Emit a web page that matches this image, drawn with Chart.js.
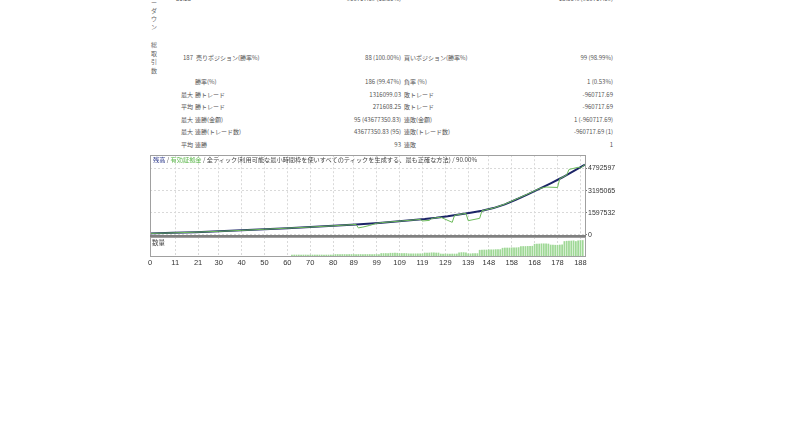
<!DOCTYPE html>
<html>
<head>
<meta charset="utf-8">
<script src="https://cdn.jsdelivr.net/npm/chart.js@4.4.0/dist/chart.umd.min.js"></script>
<style>
  body { margin: 0; background: #fff; width: 800px; height: 423px; overflow: hidden; position: relative; font-family: "Noto Sans CJK JP", sans-serif; }
  .t { position: absolute; font-size: 6px; color: #555; white-space: nowrap; line-height: 1; }
  .r { transform: translateX(-100%); }
  .v { position: absolute; font-size: 6px; color: #666; line-height: 1; }
  #title { position: absolute; left: 153px; top: 157px; font-size: 6.2px; color: #444; white-space: nowrap; line-height: 1; z-index: 2; }
  #volLabel { position: absolute; left: 152px; top: 239px; font-size: 6.5px; color: #444; line-height: 1; z-index: 2; }
  canvas { position: absolute; }
</style>
</head>
<body>
<div id="stats"></div>
<div id="title"><span style="color:#2e3a8c">残高</span> / <span style="color:#5fb84f">有効証拠金</span> / 全ティック(利用可能な最小時間枠を使いすべてのティックを生成する、最も正確な方法) / 90.00%</div>
<div id="volLabel">数量</div>
<canvas id="balance" width="490" height="90" style="left:140px;top:150px"></canvas>
<canvas id="volume" width="490" height="34" style="left:140px;top:236px"></canvas>
<script>
// 残高 / 有効証拠金 グラフ
const xTicks = [0, 11, 21, 30, 40, 50, 60, 70, 80, 89, 99, 109, 119, 129, 139, 148, 158, 168, 178, 188];
const yTicks = [0, 1597532, 3195065, 4792597];

const balTrade = [0, 10, 20, 30, 40, 50, 60, 70, 80, 90, 100, 110, 120, 125, 130, 135, 140, 145, 150, 155, 160, 165, 170, 175, 180, 185, 190];
const balValue = [100000, 140000, 190000, 250000, 320000, 400000, 480000, 560000, 650000, 750000, 860000, 1000000, 1140000, 1230000, 1340000, 1470000, 1600000, 1740000, 1930000, 2200000, 2550000, 2920000, 3320000, 3720000, 4140000, 4600000, 5070000];

const eqTrade = [0, 10, 20, 30, 40, 50, 60, 70, 80, 90, 91, 93, 96, 99, 101, 110, 118, 119, 122, 123, 125, 127, 132, 133, 135, 138, 139, 144, 145, 150, 155, 160, 165, 170, 173, 178, 179, 180, 182, 183, 187, 188, 190];
const eqValue = [100000, 140000, 190000, 250000, 320000, 400000, 480000, 560000, 650000, 750000, 500000, 560000, 680000, 830000, 880000, 1000000, 1110000, 1000000, 1040000, 1180000, 1230000, 1270000, 900000, 1400000, 1470000, 1550000, 1020000, 1190000, 1740000, 1930000, 2220000, 2580000, 2950000, 3340000, 3450000, 3420000, 4060000, 4140000, 4320000, 4720000, 4880000, 4820000, 5070000];

// 数量 (ロット) - トレード62から
const volStart = 62;
const volume = [
  0.1, 0.1, 0.1, 0.1, 0.1, 0.1, 0.1, 0.1, 0.1, 0.1, 0.1, 0.1, 0.1, 0.1, 0.1, 0.1, 0.1, 0.1, 0.1,
  0.15, 0.15, 0.15, 0.15, 0.15, 0.15, 0.15, 0.15, 0.15, 0.15, 0.15, 0.15, 0.15, 0.15, 0.15, 0.15, 0.15, 0.15, 0.15, 0.15,
  0.25, 0.25, 0.25, 0.25, 0.28, 0.28, 0.28, 0.28, 0.25, 0.25, 0.25, 0.25,
  0.22, 0.22, 0.22, 0.22, 0.22, 0.22, 0.22,
  0.3, 0.3, 0.3, 0.32, 0.32, 0.3, 0.3,
  0.2, 0.2, 0.2, 0.2, 0.2, 0.2, 0.2, 0.2,
  0.32, 0.34, 0.34, 0.32,
  0.22, 0.22, 0.24, 0.24, 0.24,
  0.58, 0.6, 0.6, 0.6, 0.62, 0.62, 0.62, 0.64, 0.64, 0.64,
  0.78, 0.8, 0.8, 0.8, 0.82, 0.82, 0.82, 0.84,
  0.94, 0.95, 0.95, 0.96, 0.96, 0.98,
  1.18, 1.2, 1.2, 1.22, 1.22, 1.22, 1.2,
  1.1, 1.1, 1.08, 1.08, 1.1, 1.12,
  1.45, 1.48, 1.5, 1.5, 1.52, 1.45, 1.52, 1.55, 1.55
];

// 統計表
const statRows = [
  { y: -4, pre: "", n: "", l1: "51.25", v1: "960717.69 (18.86%)", l2: "", v2: "18.86% (960717.69)" },
  { y: 55, pre: "", n: "187", l1: "売りポジション(勝率%)", v1: "88 (100.00%)", l2: "買いポジション(勝率%)", v2: "99 (98.99%)" },
  { y: 79, pre: "", n: "", l1: "勝率(%)", v1: "186 (99.47%)", l2: "負率 (%)", v2: "1 (0.53%)" },
  { y: 91.5, pre: "最大", n: "", l1: "勝トレード", v1: "1316099.03", l2: "敗トレード", v2: "-960717.69" },
  { y: 104, pre: "平均", n: "", l1: "勝トレード", v1: "271608.25", l2: "敗トレード", v2: "-960717.69" },
  { y: 116.5, pre: "最大", n: "", l1: "連勝(金額)", v1: "95 (43677350.83)", l2: "連敗(金額)", v2: "1 (-960717.69)" },
  { y: 129, pre: "最大", n: "", l1: "連勝(トレード数)", v1: "43677350.83 (95)", l2: "連敗(トレード数)", v2: "-960717.69 (1)" },
  { y: 141.5, pre: "平均", n: "", l1: "連勝", v1: "93", l2: "連敗", v2: "1" }
];
const sideText = [["ー", -0.5], ["ダ", 7.5], ["ウ", 15.5], ["ン", 24], ["総", 42], ["取", 50.5], ["引", 59], ["数", 67.5]];

const stats = document.getElementById("stats");
function put(txt, x, y, right, cls) {
  if (!txt) return;
  const s = document.createElement("span");
  s.className = (cls || "t") + (right ? " r" : "");
  s.style.left = x + "px";
  s.style.top = y + "px";
  s.textContent = txt;
  stats.appendChild(s);
}
statRows.forEach(function (r) {
  put(r.pre, 181, r.y);
  put(r.n, 193, r.y, true);
  if (r.y < 0) put(r.l1, 191, r.y, true); else put(r.l1, r.n ? 196 : 195, r.y);
  put(r.v1, 401, r.y, true);
  put(r.l2, 404, r.y);
  put(r.v2, 613, r.y, true);
});
sideText.forEach(function (c) { put(c[0], 151, c[1], false, "v"); });

const setXTicks = function (s) { s.ticks = xTicks.map(function (v) { return { value: v }; }); };
const gridColor = "#d9d9d9";

const frame = {
  id: "frame",
  afterDraw: function (chart, args, opts) {
    const a = chart.chartArea, ctx = chart.ctx;
    ctx.save();
    ctx.strokeStyle = "#a0a0a0";
    ctx.lineWidth = 1;
    ctx.strokeRect(Math.round(a.left) + 0.5, Math.round(a.top) + 0.5, Math.round(a.right - a.left), Math.round(a.bottom - a.top));
    if (opts.sep) {
      ctx.strokeStyle = "#808080";
      ctx.lineWidth = 2;
      ctx.beginPath();
      ctx.moveTo(a.left, Math.round(a.bottom) + 1);
      ctx.lineTo(a.right + 1, Math.round(a.bottom) + 1);
      ctx.stroke();
    }
    ctx.restore();
  }
};

new Chart(document.getElementById("balance"), {
  type: "line",
  data: {
    datasets: [
      {
        label: "有効証拠金",
        data: eqTrade.map(function (x, i) { return { x: x, y: eqValue[i] }; }),
        borderColor: "#6dbb5c",
        borderWidth: 1,
        pointRadius: 0,
        tension: 0
      },
      {
        label: "残高",
        data: balTrade.map(function (x, i) { return { x: x, y: balValue[i] }; }),
        borderColor: "#1c2467",
        borderWidth: 2,
        pointRadius: 0,
        tension: 0
      }
    ]
  },
  options: {
    responsive: false,
    animation: false,
    layout: { padding: { left: 10, top: 4, bottom: 4, right: 0 } },
    plugins: { legend: { display: false }, tooltip: { enabled: false }, frame: { sep: true } },
    scales: {
      x: {
        type: "linear",
        min: 0,
        max: 190,
        afterBuildTicks: setXTicks,
        afterFit: function (s) { s.height = 0; },
        ticks: { display: false },
        grid: { color: gridColor, drawTicks: false },
        border: { display: false, dash: [2, 2] }
      },
      y: {
        position: "right",
        min: 0,
        max: 5751116,
        afterBuildTicks: function (s) { s.ticks = yTicks.map(function (v) { return { value: v }; }); },
        afterFit: function (s) { s.width = 45; },
        ticks: {
          font: { family: "Liberation Sans", size: 7 },
          color: "#333",
          padding: 1,
          callback: function (v) { return String(v); }
        },
        grid: { color: gridColor, tickLength: 2, tickColor: "#777" },
        border: { display: false, dash: [2, 2] }
      }
    }
  },
  plugins: [frame]
});

new Chart(document.getElementById("volume"), {
  type: "bar",
  data: {
    datasets: [
      {
        label: "数量",
        data: volume.map(function (v, i) { return { x: volStart + i, y: v }; }),
        backgroundColor: "#9fd896",
        barThickness: 1.1
      }
    ]
  },
  options: {
    responsive: false,
    animation: false,
    layout: { padding: { left: 10, top: 1, bottom: 0, right: 0 } },
    plugins: { legend: { display: false }, tooltip: { enabled: false }, frame: { sep: false } },
    scales: {
      x: {
        type: "linear",
        min: 0,
        max: 190,
        offset: false,
        afterBuildTicks: setXTicks,
        afterFit: function (s) { s.height = 14; },
        ticks: {
          font: { family: "Liberation Sans", size: 7.5 },
          color: "#333",
          padding: 2,
          maxRotation: 0,
          autoSkip: false,
          callback: function (v) { return String(v); }
        },
        grid: { color: gridColor, drawTicks: false, offset: false },
        border: { display: false, dash: [2, 2] }
      },
      y: {
        position: "right",
        min: 0,
        max: 1.9,
        afterFit: function (s) { s.width = 45; },
        ticks: { display: false },
        grid: { display: false },
        border: { display: false }
      }
    }
  },
  plugins: [frame]
});
</script>
</body>
</html>
